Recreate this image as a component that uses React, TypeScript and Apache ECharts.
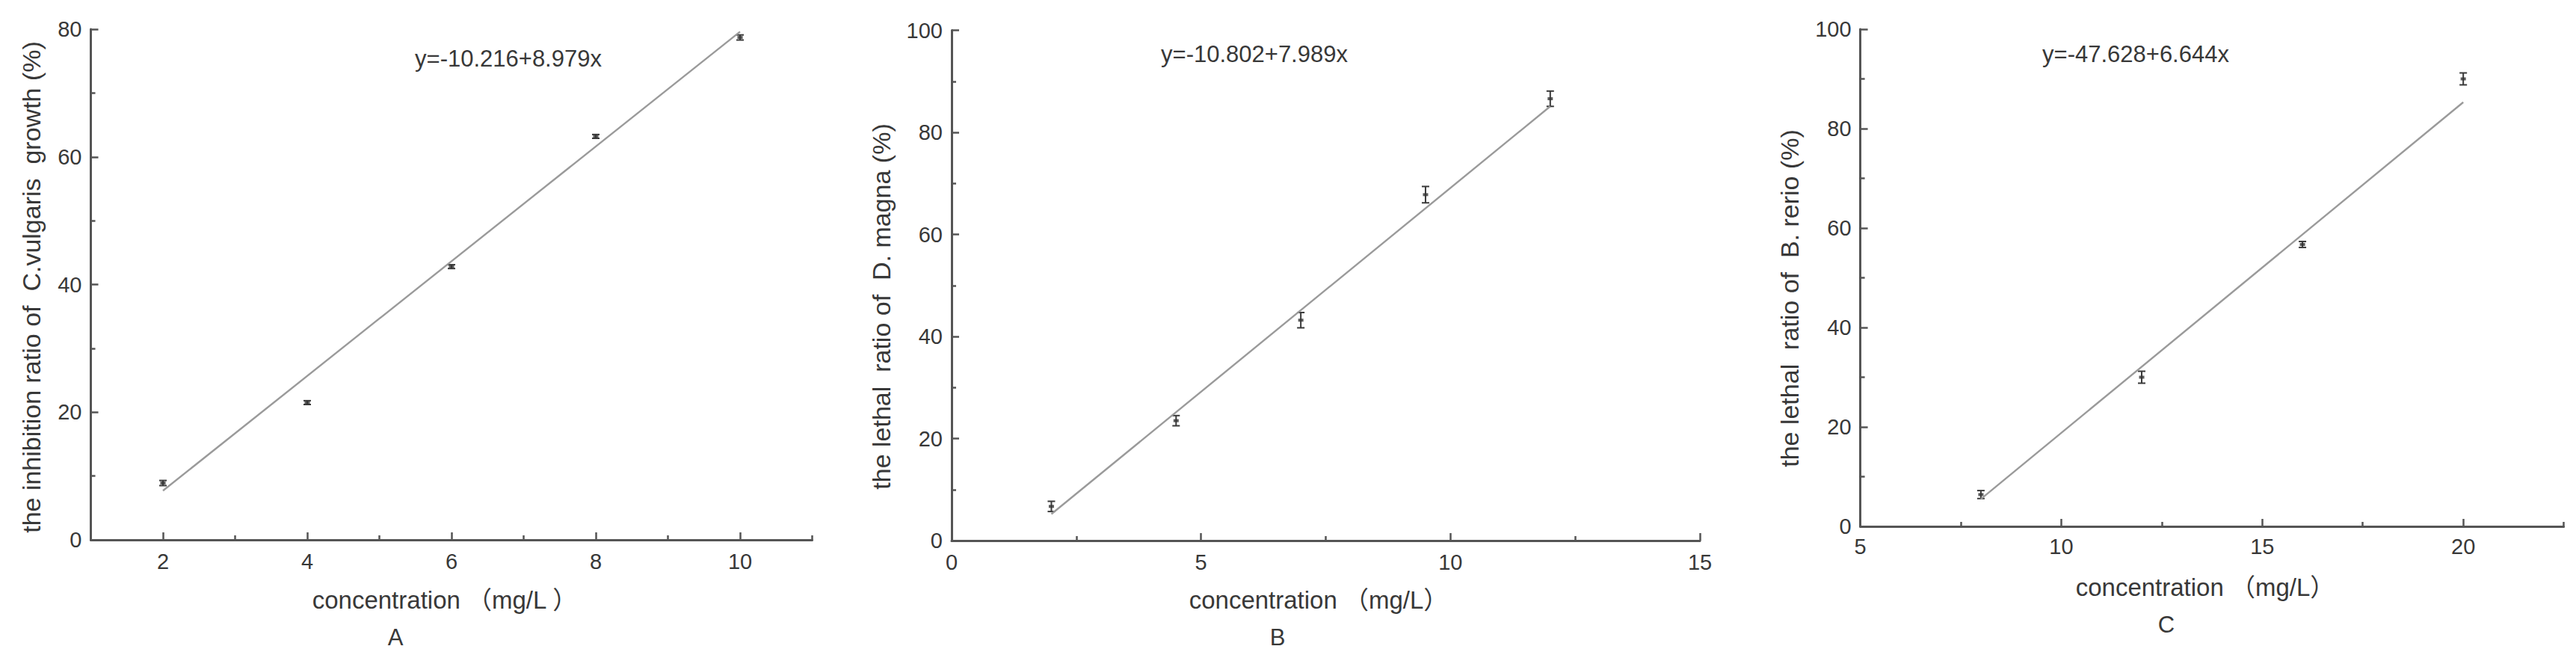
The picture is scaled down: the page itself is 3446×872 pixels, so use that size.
import React, { useEffect, useRef } from "react";
import * as echarts from "echarts";

// ---------- data ----------
const xA = [2, 4, 6, 8, 10];
const yA = [8.9, 21.5, 42.8, 63.2, 78.7];
const errA = [0.4, 0.3, 0.3, 0.3, 0.4];
const fitA = [[2, 7.7], [10, 79.6]];

const xB = [2, 4.5, 7, 9.5, 12];
const yB = [6.7, 23.5, 43.2, 67.8, 86.6];
const errB = [1.0, 1.0, 1.5, 1.6, 1.5];
const fitB = [[2, 5.2], [12, 85.1]];

const xC = [8, 12, 16, 20];
const yC = [6.4, 30.0, 56.7, 90.0];
const errC = [0.8, 1.2, 0.6, 1.2];
const fitC = [[8, 5.5], [20, 85.3]];

const xTicksA = [2, 4, 6, 8, 10];
const xMinorA = [3, 5, 7, 9, 11];
const yTicksA = [0, 20, 40, 60, 80];
const yMinorA = [10, 30, 50, 70];

const xTicksB = [0, 5, 10, 15];
const xMinorB = [2.5, 7.5, 12.5];
const yTicksB = [0, 20, 40, 60, 80, 100];
const yMinorB = [10, 30, 50, 70, 90];

const xTicksC = [5, 10, 15, 20];
const xMinorC = [7.5, 12.5, 17.5, 22.5];
const yTicksC = [0, 20, 40, 60, 80, 100];
const yMinorC = [10, 30, 50, 70, 90];

const xTitles = ["concentration （mg/L ）", "concentration （mg/L）", "concentration （mg/L）"];
const yTitles = [
  "the inhibition ratio of  C.vulgaris  growth (%)",
  "the lethal  ratio of  D. magna (%)",
  "the lethal  ratio of  B. rerio (%)",
];
const equations = ["y=-10.216+8.979x", "y=-10.802+7.989x", "y=-47.628+6.644x"];
const panelLetters = ["A", "B", "C"];

// ---------- layout (styles) ----------
const panels = [
  {
    grid: { left: 121.5, top: 39, width: 965, height: 683 },
    xMin: 1, xMax: 11, yMin: 0, yMax: 80,
    xs: xA, ys: yA, errs: errA, fit: fitA,
    xTicks: xTicksA, xMinor: xMinorA, yTicks: yTicksA, yMinor: yMinorA,
    xTitlePos: [595, 802], letterPos: [529, 852], yTitlePos: [42, 384], eqPos: [680, 78],
    xLabelMargin: 14,
  },
  {
    grid: { left: 1273, top: 40.6, width: 1001, height: 682.4 },
    xMin: 0, xMax: 15, yMin: 0, yMax: 100,
    xs: xB, ys: yB, errs: errB, fit: fitB,
    xTicks: xTicksB, xMinor: xMinorB, yTicks: yTicksB, yMinor: yMinorB,
    xTitlePos: [1764, 802], letterPos: [1709, 852], yTitlePos: [1179, 410], eqPos: [1678, 72],
    xLabelMargin: 14,
  },
  {
    grid: { left: 2488.6, top: 39, width: 941, height: 665 },
    xMin: 5, xMax: 22.5, yMin: 0, yMax: 100,
    xs: xC, ys: yC, errs: errC, fit: fitC,
    xTicks: xTicksC, xMinor: xMinorC, yTicks: yTicksC, yMinor: yMinorC,
    xTitlePos: [2950, 785], letterPos: [2898, 835], yTitlePos: [2394, 399], eqPos: [2857, 72],
    xLabelMargin: 12,
  },
];

const FONT = "'Liberation Sans', Arial, 'Noto Sans CJK SC', sans-serif";
const AXIS_COLOR = "#555555";
const TEXT_COLOR = "#383838";

export default function App() {
  const ref = useRef<HTMLDivElement>(null);

  useEffect(() => {
    if (!ref.current) return;
    const chart = echarts.init(ref.current, undefined, { renderer: "svg" });

    const grids: any[] = [];
    const xAxes: any[] = [];
    const yAxes: any[] = [];
    const series: any[] = [];
    const graphics: any[] = [];

    panels.forEach((p, i) => {
      grids.push({ ...p.grid, containLabel: false });
      xAxes.push({
        type: "value", gridIndex: i, min: p.xMin, max: p.xMax, position: "bottom",
        axisLine: { show: true, onZero: false, lineStyle: { color: AXIS_COLOR, width: 3 } },
        axisTick: { show: true, inside: true, length: 10, customValues: p.xTicks, lineStyle: { color: AXIS_COLOR, width: 2.5 } },
        axisLabel: { show: true, customValues: p.xTicks, margin: p.xLabelMargin, color: TEXT_COLOR, fontSize: 29, fontFamily: FONT },
        splitLine: { show: false },
      });
      xAxes.push({
        type: "value", gridIndex: i, min: p.xMin, max: p.xMax, position: "bottom",
        axisLine: { show: false, onZero: false },
        axisTick: { show: true, inside: true, length: 6, customValues: p.xMinor, lineStyle: { color: AXIS_COLOR, width: 2.5 } },
        axisLabel: { show: false },
        splitLine: { show: false },
      });
      yAxes.push({
        type: "value", gridIndex: i, min: p.yMin, max: p.yMax, position: "left",
        axisLine: { show: true, onZero: false, lineStyle: { color: AXIS_COLOR, width: 3 } },
        axisTick: { show: true, inside: true, length: 10, customValues: p.yTicks, lineStyle: { color: AXIS_COLOR, width: 2.5 } },
        axisLabel: { show: true, customValues: p.yTicks, margin: 12, color: TEXT_COLOR, fontSize: 29, fontFamily: FONT },
        splitLine: { show: false },
      });
      yAxes.push({
        type: "value", gridIndex: i, min: p.yMin, max: p.yMax, position: "left",
        axisLine: { show: false, onZero: false },
        axisTick: { show: true, inside: true, length: 6, customValues: p.yMinor, lineStyle: { color: AXIS_COLOR, width: 2.5 } },
        axisLabel: { show: false },
        splitLine: { show: false },
      });

      const xi = i * 2;
      const yi = i * 2;

      series.push({
        type: "line", xAxisIndex: xi, yAxisIndex: yi,
        data: p.fit, symbol: "none", silent: true,
        lineStyle: { color: "#9a9a9a", width: 2.4 },
      });
      series.push({
        type: "custom", xAxisIndex: xi, yAxisIndex: yi,
        data: p.xs.map((x, k) => [x, p.ys[k] - p.errs[k], p.ys[k] + p.errs[k]]),
        renderItem: (params: any, api: any) => {
          const x = api.value(0);
          const top = api.coord([x, api.value(2)]);
          const bot = api.coord([x, api.value(1)]);
          const hw = 5;
          const st = { stroke: "#3a3a3a", lineWidth: 2 };
          return {
            type: "group",
            children: [
              { type: "line", shape: { x1: top[0], y1: top[1], x2: bot[0], y2: bot[1] }, style: st },
              { type: "line", shape: { x1: top[0] - hw, y1: top[1], x2: top[0] + hw, y2: top[1] }, style: st },
              { type: "line", shape: { x1: bot[0] - hw, y1: bot[1], x2: bot[0] + hw, y2: bot[1] }, style: st },
            ],
          };
        },
      });
      series.push({
        type: "scatter", xAxisIndex: xi, yAxisIndex: yi,
        data: p.xs.map((x, k) => [x, p.ys[k]]),
        symbol: "rect", symbolSize: [7, 4],
        itemStyle: { color: "#333333" },
      });

      graphics.push({
        type: "text", x: p.xTitlePos[0], y: p.xTitlePos[1],
        style: { text: xTitles[i], fill: TEXT_COLOR, font: `33px ${FONT}`, textAlign: "center", textVerticalAlign: "middle" },
      });
      graphics.push({
        type: "text", x: p.letterPos[0], y: p.letterPos[1],
        style: { text: panelLetters[i], fill: TEXT_COLOR, font: `31px ${FONT}`, textAlign: "center", textVerticalAlign: "middle" },
      });
      graphics.push({
        type: "text", x: p.yTitlePos[0], y: p.yTitlePos[1], rotation: Math.PI / 2,
        style: { text: yTitles[i], fill: TEXT_COLOR, font: `34px ${FONT}`, textAlign: "center", textVerticalAlign: "middle" },
      });
      graphics.push({
        type: "text", x: p.eqPos[0], y: p.eqPos[1],
        style: { text: equations[i], fill: TEXT_COLOR, font: `31px ${FONT}`, textAlign: "center", textVerticalAlign: "middle" },
      });
    });

    chart.setOption({
      animation: false,
      backgroundColor: "#ffffff",
      grid: grids,
      xAxis: xAxes,
      yAxis: yAxes,
      series,
      graphic: graphics,
    });

    return () => chart.dispose();
  }, []);

  return (
    <div
      ref={ref}
      style={{ position: "fixed", left: 0, top: 0, width: 3446, height: 872, background: "#fff" }}
    />
  );
}
